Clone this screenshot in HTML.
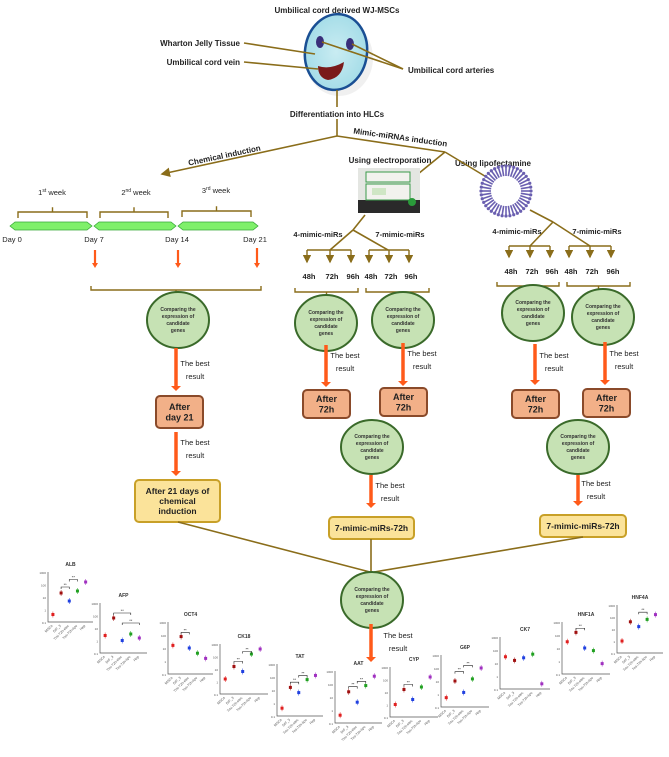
<!DOCTYPE html>
<html><head><meta charset="utf-8">
<style>
html,body{margin:0;padding:0;background:#fff;}
svg{display:block;font-family:"Liberation Sans",sans-serif;}
.t{font-size:8px;font-weight:bold;fill:#222;}
.s{font-size:7.5px;fill:#222;}
.ln{stroke:#8a6d1a;stroke-width:1.6;fill:none;}
</style></head><body>
<svg id="s" width="669" height="757" viewBox="0 0 669 757" xmlns="http://www.w3.org/2000/svg">
<defs>
<marker id="ah" markerWidth="6" markerHeight="6" refX="5" refY="3" orient="auto"><path d="M0,0L6,3L0,6z" fill="#8a6d1a"/></marker>
<radialGradient id="cg"><stop offset="0" stop-color="#c9ecf2"/><stop offset="1" stop-color="#a6dde8"/></radialGradient>
</defs>
<text x="337" y="13" text-anchor="middle" class="t">Umbilical cord derived WJ-MSCs</text>
<ellipse cx="337" cy="55" rx="34" ry="38" fill="#e6e6e6" opacity="0.6" transform="translate(2,3)"/>
<ellipse cx="336" cy="52" rx="31" ry="38" fill="url(#cg)" stroke="#1a4f94" stroke-width="2.5" transform="rotate(8 336 52)"/>
<ellipse cx="320" cy="42" rx="4" ry="6" fill="#3a2f7a"/>
<ellipse cx="350" cy="44" rx="4" ry="6" fill="#3a2f7a"/>
<path d="M318,66 Q330,70 344,62 Q342,78 328,80 Q318,78 318,66z" fill="#7a1a1a"/>
<text x="240" y="46" text-anchor="end" class="t">Wharton Jelly Tissue</text>
<text x="240" y="65" text-anchor="end" class="t">Umbilical cord vein</text>
<text x="408" y="73" class="t">Umbilical cord arteries</text>
<line x1="244" y1="43" x2="315" y2="54" class="ln"/>
<line x1="244" y1="62" x2="318" y2="69" class="ln"/>
<line x1="322" y1="42" x2="403" y2="69" class="ln"/>
<line x1="352" y1="44" x2="403" y2="69" class="ln"/>
<line x1="337" y1="90" x2="337" y2="136" class="ln"/>
<rect x="288" y="107" width="98" height="12" fill="#fff"/>
<text x="337" y="117" text-anchor="middle" class="t">Differentiation into HLCs</text>
<line x1="337" y1="136" x2="162" y2="174" class="ln" marker-end="url(#ah)"/>
<line x1="337" y1="136" x2="445" y2="152" class="ln"/>
<text x="225" y="158" text-anchor="middle" class="t" transform="rotate(-12 225 158)">Chemical induction</text>
<text x="400" y="140" text-anchor="middle" class="t" transform="rotate(8 400 140)">Mimic-miRNAs induction</text>
<text x="390" y="163" text-anchor="middle" class="t">Using electroporation</text>
<text x="493" y="166" text-anchor="middle" class="t">Using lipofectamine</text>
<line x1="445" y1="152" x2="418" y2="174" class="ln"/>
<line x1="445" y1="152" x2="488" y2="178" class="ln"/>
<rect x="358" y="168" width="62" height="45" fill="#e4e6e2"/>
<rect x="358" y="200" width="62" height="13" fill="#2a2a2a"/>
<rect x="366" y="172" width="44" height="10" fill="#f2f2ee" stroke="#3a9a4a" stroke-width="1"/>
<rect x="366" y="184" width="44" height="16" fill="#f2f2ee" stroke="#3a9a4a" stroke-width="1"/>
<rect x="372" y="188" width="14" height="7" fill="#cfe6c5"/>
<circle cx="412" cy="202" r="4" fill="#2a9a3a"/>
<g id="ring"></g>
<g id="tl"></g>
<text x="52" y="195" text-anchor="middle" class="s">1<tspan font-size="5" dy="-3">st</tspan><tspan dy="3"> week</tspan></text>
<text x="136" y="195" text-anchor="middle" class="s">2<tspan font-size="5" dy="-3">nd</tspan><tspan dy="3"> week</tspan></text>
<text x="216" y="193" text-anchor="middle" class="s">3<tspan font-size="5" dy="-3">rd</tspan><tspan dy="3"> week</tspan></text>
<text x="12" y="242" text-anchor="middle" class="s">Day 0</text>
<text x="94" y="242" text-anchor="middle" class="s">Day 7</text>
<text x="177" y="242" text-anchor="middle" class="s">Day 14</text>
<text x="255" y="242" text-anchor="middle" class="s">Day 21</text>
<polyline points="365,215 353,230" class="ln"/>
<line x1="353" y1="230" x2="330" y2="250" class="ln"/>
<line x1="353" y1="230" x2="388" y2="250" class="ln"/>
<text x="318" y="237" text-anchor="middle" class="s" font-weight="bold">4-mimic-miRs</text>
<text x="400" y="237" text-anchor="middle" class="s" font-weight="bold">7-mimic-miRs</text>
<line x1="530" y1="210" x2="553" y2="222" class="ln"/>
<line x1="553" y1="222" x2="530" y2="246" class="ln"/>
<line x1="553" y1="222" x2="590" y2="246" class="ln"/>
<text x="517" y="234" text-anchor="middle" class="s" font-weight="bold">4-mimic-miRs</text>
<text x="597" y="234" text-anchor="middle" class="s" font-weight="bold">7-mimic-miRs</text>
<g id="dyn"></g>
</svg>
<script>
var NS="http://www.w3.org/2000/svg";
var D=document.getElementById('dyn');
function el(t,a,p,txt){var e=document.createElementNS(NS,t);for(var k in a)e.setAttribute(k,a[k]);if(txt!=null)e.textContent=txt;(p||D).appendChild(e);return e;}
var LN="#8a6d1a",OR="#ff5a1a";
var R=document.getElementById('ring');
for(var i=0;i<40;i++){var a=i/40*Math.PI*2;var c=Math.cos(a),s=Math.sin(a);
el('line',{x1:506+c*15,y1:191+s*15,x2:506+c*25,y2:191+s*25,stroke:'#6a5fb0','stroke-width':1.6},R);
el('circle',{cx:506+c*25,cy:191+s*25,r:1.6,fill:'#6a5fb0'},R);}
var T=document.getElementById('tl');
[[10,92],[94,176],[178,258]].forEach(function(p){
el('polygon',{points:(p[0])+',226 '+(p[0]+5)+',222 '+(p[1]-5)+',222 '+p[1]+',226 '+(p[1]-5)+',230 '+(p[0]+5)+',230',fill:'#7ff06a',stroke:'#3aa83a','stroke-width':0.8},T);});
function brace(x1,x2,y,h){el('path',{d:'M'+x1+','+(y+h)+'V'+y+'H'+x2+'V'+(y+h)+'M'+((x1+x2)/2)+','+y+'v'+(-h*0.8),fill:'none',stroke:LN,'stroke-width':1.4});}
brace(18,87,212,6);brace(100,168,212,6);brace(182,251,211,6);
function oarr(x,y1,y2,w){el('line',{x1:x,y1:y1,x2:x,y2:y2-4,stroke:OR,'stroke-width':w||2.2});el('path',{d:'M'+(x-3-(w>3?2:0))+','+(y2-5)+'L'+(x+3+(w>3?2:0))+','+(y2-5)+'L'+x+','+y2+'z',fill:OR});}
oarr(95,250,268);oarr(178,250,268);oarr(257,248,268);
function htree(xs,y,yb,hy){el('line',{x1:xs[0],y1:y,x2:xs[2],y2:y,stroke:LN,'stroke-width':1.6});
xs.forEach(function(x,i){el('line',{x1:x,y1:y,x2:x,y2:yb,stroke:LN,'stroke-width':1.4,'marker-end':'url(#ah)'});
el('text',{x:x+2,y:hy,'text-anchor':'middle','class':'s','font-weight':'bold'},null,['48h','72h','96h'][i]);});}
htree([307,330,351],250,262,279);htree([369,389,409],250,262,279);
htree([509,530,550],246,257,274);htree([569,590,611],246,257,274);
function dbrace(x1,x2,y){el('path',{d:'M'+x1+','+(y-4)+'V'+y+'H'+x2+'V'+(y-4)+'M'+((x1+x2)/2)+','+y+'v3',fill:'none',stroke:LN,'stroke-width':1.4});}
dbrace(91,261,290);dbrace(295,358,292);dbrace(366,429,292);dbrace(497,559,286);dbrace(567,630,286);
function circ(x,y,rx,ry){el('ellipse',{cx:x,cy:y,rx:rx||31,ry:ry||28,fill:'#c6e2b4',stroke:'#3a6a2a','stroke-width':2});
['Comparing the','expression of','candidate','genes'].forEach(function(t,i){el('text',{x:x,y:y-9+i*7,'text-anchor':'middle','font-size':'5px','font-weight':'bold',fill:'#333'},null,t);});}
circ(178,320);circ(326,323);circ(403,320);circ(533,313);circ(603,317);circ(372,447,31,27);circ(578,447,31,27);
function best(x,y1,y2,tx,ty){oarr(x,y1,y2,3.5);el('text',{x:tx,y:ty,'text-anchor':'middle','class':'s','font-size':'8px'},null,'The best');el('text',{x:tx,y:ty+13,'text-anchor':'middle','class':'s','font-size':'8px'},null,'result');}
best(176,348,391,195,366);best(326,345,387,345,358);best(403,343,386,422,356);
best(535,344,385,554,358);best(605,342,385,624,356);
best(176,432,476,195,445);best(371,475,508,390,488);best(578,475,506,596,486);
function box(x,y,w,h,lines,fill,st,fs){el('rect',{x:x,y:y,width:w,height:h,rx:4,fill:fill,stroke:st,'stroke-width':2});
lines.forEach(function(t,i){el('text',{x:x+w/2,y:y+h/2+fs*0.35+(i-(lines.length-1)/2)*fs*1.2,'text-anchor':'middle','font-weight':'bold','font-size':fs+'px',fill:'#222'},null,t);});}
box(156,396,47,32,['After','day 21'],'#f2b088','#8a4a2a',9);
box(303,390,47,28,['After','72h'],'#f2b088','#8a4a2a',9);
box(380,388,47,28,['After','72h'],'#f2b088','#8a4a2a',9);
box(512,390,47,28,['After','72h'],'#f2b088','#8a4a2a',9);
box(583,389,47,28,['After','72h'],'#f2b088','#8a4a2a',9);
box(135,480,85,42,['After 21 days of','chemical','induction'],'#fbe39a','#c8a028',8.5);
box(329,517,85,22,['7-mimic-miRs-72h'],'#fbe39a','#c8a028',8.5);
box(540,515,86,22,['7-mimic-miRs-72h'],'#fbe39a','#c8a028',8.5);
el('line',{x1:178,y1:522,x2:370,y2:572,stroke:LN,'stroke-width':1.6});
el('line',{x1:371,y1:539,x2:371,y2:572,stroke:LN,'stroke-width':1.6});
el('line',{x1:583,y1:537,x2:374,y2:572,stroke:LN,'stroke-width':1.6});
circ(372,600);
best(371,624,662,398,638);
var cols=['#e02020','#a01010','#2040e0','#20a020','#a030c0'];
function chart(x,y,w,h,title,pts,sig){
el('text',{x:x+w/2,y:y-6,'text-anchor':'middle','font-size':'5px','font-weight':'bold',fill:'#333'},null,title);
el('path',{d:'M'+x+','+y+'V'+(y+h)+'H'+(x+w),fill:'none',stroke:'#555','stroke-width':0.7});
for(var k=0;k<5;k++)el('text',{x:x-2,y:y+2+k*h/4,'text-anchor':'end','font-size':'3px',fill:'#555'},null,['1000','100','10','1','0.1'][k]);
var lab=['MSCs','DIF_3','7mi-72h-elec','7mi-72h-lipo','Hep'];
pts.forEach(function(p,i){var px=x+w*(i+0.6)/5.5,py=y+h*p;
el('line',{x1:px,y1:py-3,x2:px,y2:py+3,stroke:cols[i],'stroke-width':0.5});
el('rect',{x:px-1.5,y:py-1.5,width:3,height:3,fill:cols[i]});
el('text',{x:px,y:y+h+4,'text-anchor':'end','font-size':'3.5px',fill:'#555',transform:'rotate(-45 '+px+' '+(y+h+4)+')'},null,lab[i]);});
(sig||[]).forEach(function(s){var a=x+w*(s[0]+0.6)/5.5,b=x+w*(s[1]+0.6)/5.5,sy=y+h*s[2];
el('path',{d:'M'+a+','+(sy+2)+'V'+sy+'H'+b+'V'+(sy+2),fill:'none',stroke:'#222','stroke-width':0.6});
el('text',{x:(a+b)/2,y:sy-1,'text-anchor':'middle','font-size':'4px',fill:'#222'},null,'**');});}
chart(48,572,45,50,'ALB',[0.85,0.42,0.58,0.38,0.2],[[1,2,0.3],[2,3,0.15]]);
chart(100,603,47,50,'AFP',[0.65,0.3,0.75,0.62,0.7],[[1,3,0.2],[2,4,0.4]]);
chart(168,622,45,52,'OCT4',[0.45,0.28,0.5,0.6,0.7],[[1,2,0.2]]);
chart(220,644,48,50,'CK18',[0.7,0.45,0.55,0.2,0.1],[[1,2,0.35],[2,3,0.15]]);
chart(277,664,46,52,'TAT',[0.85,0.45,0.55,0.3,0.22],[[1,2,0.35],[2,3,0.22]]);
chart(335,671,47,52,'AAT',[0.85,0.4,0.6,0.28,0.1],[[1,2,0.3],[2,3,0.2]]);
chart(390,667,48,50,'CYP',[0.75,0.45,0.65,0.4,0.2],[[1,2,0.35]]);
chart(441,655,48,52,'G6P',[0.82,0.5,0.72,0.46,0.25],[[1,2,0.32],[2,3,0.2]]);
chart(500,637,50,52,'CK7',[0.38,0.45,0.4,0.33,0.9]);
chart(562,622,48,52,'HNF1A',[0.38,0.2,0.5,0.55,0.8],[[1,2,0.12]]);
chart(617,605,46,48,'HNF4A',[0.75,0.35,0.45,0.3,0.2],[[2,3,0.15]]);
</script>
</body></html>
